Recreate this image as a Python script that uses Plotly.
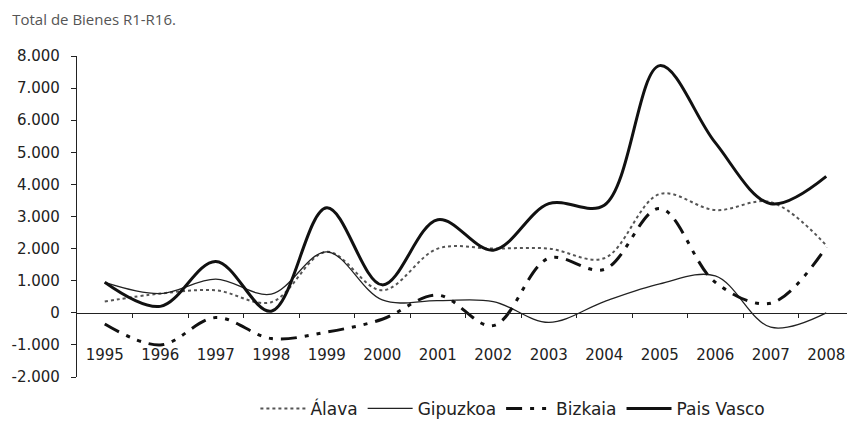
import plotly.graph_objects as go

years = list(range(1995, 2009))
alava = [350, 600, 700, 330, 1900, 700, 2000, 2000, 2000, 1700, 3700, 3200, 3450, 2100]
gipuzkoa = [950, 600, 1050, 580, 1900, 400, 380, 350, -300, 350, 900, 1150, -450, 0]
bizkaia = [-350, -1000, -150, -800, -600, -200, 550, -400, 1700, 1350, 3250, 950, 300, 2050]
pais_vasco = [950, 200, 1600, 50, 3270, 870, 2900, 1950, 3400, 3350, 7700, 5300, 3400, 4250]

y_ticks = [-2000, -1000, 0, 1000, 2000, 3000, 4000, 5000, 6000, 7000, 8000]
y_labels = ["-2.000", "-1.000", "0", "1.000", "2.000", "3.000", "4.000", "5.000", "6.000", "7.000", "8.000"]
year_labels = [str(y) for y in years]

fig = go.Figure()
fig.add_trace(go.Scatter(x=years, y=alava, name="Álava", mode="lines",
                         line=dict(color="#555555", width=2, dash="dot", shape="spline", smoothing=1.0)))
fig.add_trace(go.Scatter(x=years, y=gipuzkoa, name="Gipuzkoa", mode="lines",
                         line=dict(color="#222222", width=1.3, shape="spline", smoothing=1.0)))
fig.add_trace(go.Scatter(x=years, y=bizkaia, name="Bizkaia", mode="lines",
                         line=dict(color="#111111", width=3, dash="16px,8px,4px,8px,4px,8px",
                                   shape="spline", smoothing=1.0)))
fig.add_trace(go.Scatter(x=years, y=pais_vasco, name="Pais Vasco", mode="lines",
                         line=dict(color="#111111", width=3, shape="spline", smoothing=1.0)))

font_axis = dict(family="DejaVu Sans", size=15, color="#222222")

# the page body has an 8px default margin, so the figure is sized to fit the window
fig.update_layout(
    width=847, height=418,
    margin=dict(l=69, r=1, t=48, b=49, autoexpand=False),
    paper_bgcolor="white", plot_bgcolor="white",
    title=dict(text="Total de Bienes R1-R16.", x=0.005, xref="container", xanchor="left",
               y=0.972, yref="container", yanchor="middle",
               font=dict(family="Open Sans", size=15, color="#555555")),
    xaxis=dict(range=[1994.5, 2008.5], anchor="free", position=0.2, automargin=False,
               showline=True, linecolor="#222222", linewidth=1.2,
               showgrid=False, zeroline=False,
               tickmode="array", tickvals=years, ticktext=year_labels,
               ticks="outside", ticklen=0, ticklabelstandoff=28,
               tickfont=font_axis,
               minor=dict(tickmode="array", tickvals=[y + 0.5 for y in years],
                          ticks="outside", ticklen=4, tickcolor="#222222", showgrid=False)),
    yaxis=dict(range=[-2000, 8000], automargin=False,
               showline=True, linecolor="#222222", linewidth=1.2,
               showgrid=False, zeroline=False,
               tickmode="array", tickvals=y_ticks, ticktext=y_labels,
               ticks="outside", ticklen=5, tickcolor="#222222", ticklabelstandoff=8,
               tickfont=font_axis),
    legend=dict(orientation="h", x=0.561, xanchor="center", y=0.041, yref="container",
                yanchor="middle", font=dict(family="DejaVu Sans", size=17, color="#222222"),
                itemwidth=45, bgcolor="rgba(0,0,0,0)"),
    showlegend=True,
)

fig.write_html("out.html")
